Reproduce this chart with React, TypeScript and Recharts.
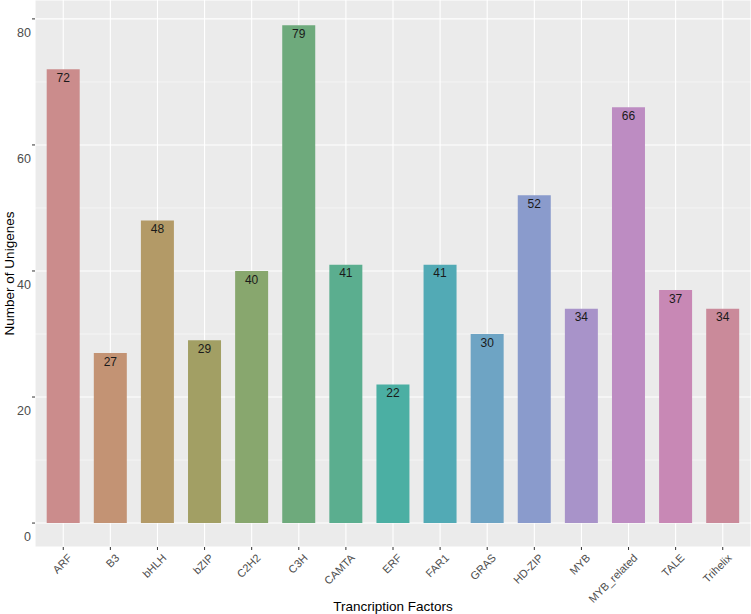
import React from 'react';
import { BarChart, Bar, XAxis, YAxis, CartesianGrid, Cell, LabelList } from 'recharts';

const categories = ['ARF', 'B3', 'bHLH', 'bZIP', 'C2H2', 'C3H', 'CAMTA', 'ERF', 'FAR1', 'GRAS', 'HD-ZIP', 'MYB', 'MYB_related', 'TALE', 'Trihelix'];
const counts = [72, 27, 48, 29, 40, 79, 41, 22, 41, 30, 52, 34, 66, 37, 34];
const colors = ['#CB8C8C', '#C39374', '#B39A67', '#A29F64', '#88A76E', '#6EAA7C', '#5BAE8F', '#4BAFA3', '#52AAB5', '#6EA4C4', '#8A9BCC', '#A893C9', '#BD8CC2', '#C888B5', '#CA8A9A'];
const yTicks = [0, 20, 40, 60, 80];
const yMinor = [10, 30, 50, 70];

const data = categories.map((name, i) => ({ name, count: counts[i] }));

const FONT = '"Liberation Sans", Arial, Helvetica, sans-serif';

const YTick = (props: any) => {
  const { y, payload } = props;
  return (
    <text x={31} y={y + 14} dy="0.35em" textAnchor="end" fill="#4D4D4D" fontSize={12.5} fontFamily={FONT}>
      {payload.value}
    </text>
  );
};

const XTick = (props: any) => {
  const { x, payload } = props;
  return (
    <text
      transform={`translate(${x + 4}, ${553}) rotate(-45)`}
      textAnchor="end"
      dy="0.72em"
      fill="#4D4D4D"
      fontSize={11}
      fontFamily={FONT}
    >
      {payload.value}
    </text>
  );
};

const renderBarLabel = (props: any) => {
  const { x, y, width, value } = props;
  return (
    <text x={x + width / 2} y={y + 12.7} textAnchor="middle" fill="#1A1A1A" fontSize={12} fontFamily={FONT}>
      {value}
    </text>
  );
};

export default function App() {
  return (
    <div style={{ position: 'absolute', left: 0, top: 0 }}>
      <BarChart width={751} height={614} data={data} margin={{ top: 0, right: 0, bottom: 0, left: 0 }}>
        <CartesianGrid fill="#EBEBEB" stroke="#FFFFFF" strokeWidth={1.1} />
        <CartesianGrid horizontalValues={yMinor} vertical={false} stroke="#FFFFFF" strokeWidth={0.5} fill="none" />
        <XAxis
          dataKey="name"
          interval={0}
          height={67}
          padding={{ left: 4.7, right: 4.7 }}
          axisLine={false}
          tickLine={{ stroke: '#333333' }}
          tickSize={3}
          tick={<XTick />}
          label={{
            content: (p: any) => {
              const vb = p.viewBox;
              return (
                <text x={vb.x + vb.width / 2} y={611} textAnchor="middle" fill="#000" fontSize={13.5} fontFamily={FONT}>
                  Trancription Factors
                </text>
              );
            },
          }}
        />
        <YAxis
          width={35}
          domain={[-3.8, 83]}
          ticks={yTicks}
          allowDataOverflow
          axisLine={false}
          tickLine={{ stroke: '#333333' }}
          tickSize={3}
          tick={<YTick />}
          label={{
            content: (p: any) => {
              const vb = p.viewBox;
              return (
                <text
                  transform={`translate(9, ${vb.y + vb.height / 2}) rotate(-90)`}
                  textAnchor="middle"
                  dominantBaseline="central"
                  fill="#000"
                  fontSize={13.5}
                  fontFamily={FONT}
                >
                  Number of Unigenes
                </text>
              );
            },
          }}
        />
        <Bar dataKey="count" barSize={33} isAnimationActive={false}>
          {data.map((d, i) => (
            <Cell key={d.name} fill={colors[i]} />
          ))}
          <LabelList dataKey="count" content={renderBarLabel} />
        </Bar>
      </BarChart>
    </div>
  );
}
